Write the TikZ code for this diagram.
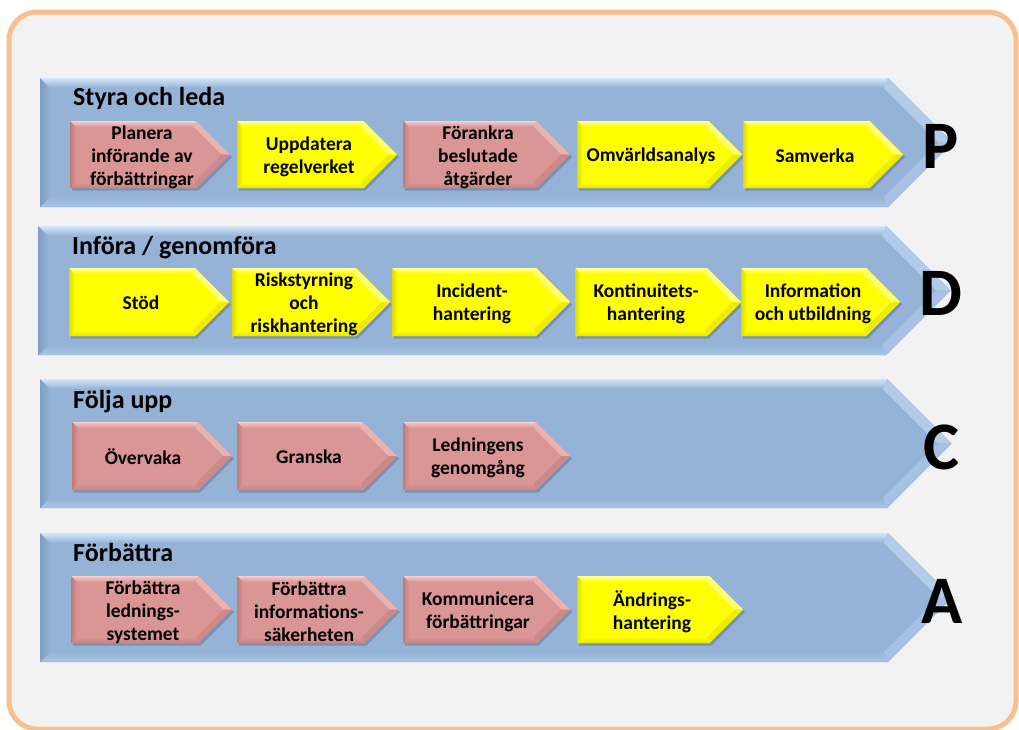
\documentclass[tikz,border=0pt]{standalone}
\usepackage{fontspec}
\setmainfont{Carlito}
\definecolor{bgc}{HTML}{F2F2F2}
\definecolor{framec}{HTML}{FABF8F}
% band colours
\definecolor{bandM}{HTML}{95B3D7}
\definecolor{bandT}{HTML}{D3E6FA}
\definecolor{bandL}{HTML}{7F9DC6}
\definecolor{bandU}{HTML}{B3CCEA}
\definecolor{bandW}{HTML}{A6C1E3}
\definecolor{bandB}{HTML}{A9C4E6}
% pink
\definecolor{pinkM}{HTML}{D99694}
\definecolor{pinkT}{HTML}{F4CDCC}
\definecolor{pinkL}{HTML}{C07B79}
\definecolor{pinkU}{HTML}{E8B3B2}
\definecolor{pinkW}{HTML}{CD8987}
\definecolor{pinkB}{HTML}{C88482}
% yellow
\definecolor{yelM}{HTML}{FFFF00}
\definecolor{yelT}{HTML}{FFFFA0}
\definecolor{yelL}{HTML}{DCDC00}
\definecolor{yelU}{HTML}{FFFF70}
\definecolor{yelW}{HTML}{EDED00}
\definecolor{yelB}{HTML}{E6E600}

% bevelled pentagon: x0, xflat, ytop, ybot, bevel, scheme
\newcommand\bvshape[6]{%
  \pgfmathsetmacro\bvYm{(#3+#4)/2}%
  \pgfmathsetmacro\bvXt{#2+(#4-#3)/2}%
  \pgfmathsetmacro\bvIa{#1+#5}%
  \pgfmathsetmacro\bvIt{#3+#5}%
  \pgfmathsetmacro\bvIb{#4-#5}%
  \pgfmathsetmacro\bvIf{#2-0.414*#5}%
  \pgfmathsetmacro\bvIx{\bvXt-1.414*#5}%
  \fill[#6M] (#1,#3) -- (#2,#3) -- (\bvXt,\bvYm) -- (#2,#4) -- (#1,#4) -- cycle;
  \shade[top color=#6T, bottom color=#6M] (#1,#3) -- (#2,#3) -- (\bvIf,\bvIt) -- (\bvIa,\bvIt) -- cycle;
  \fill[#6U] (#2,#3) -- (\bvXt,\bvYm) -- (\bvIx,\bvYm) -- (\bvIf,\bvIt) -- cycle;
  \fill[#6W] (\bvXt,\bvYm) -- (#2,#4) -- (\bvIf,\bvIb) -- (\bvIx,\bvYm) -- cycle;
  \shade[top color=#6M, bottom color=#6B] (#2,#4) -- (#1,#4) -- (\bvIa,\bvIb) -- (\bvIf,\bvIb) -- cycle;
  \shade[left color=#6L, right color=#6M] (#1,#4) -- (#1,#3) -- (\bvIa,\bvIt) -- (\bvIa,\bvIb) -- cycle;
}
% small arrow: x0, xtip, ytop, ybot, scheme
\newcommand\arr[5]{%
  \pgfmathsetmacro\arXf{#2-(#4-#3)/2}%
  \pgfmathsetmacro\arYm{(#3+#4)/2}%
  \begin{scope}[shift={(2,2.5)}]
    \fill[black,opacity=.18] (#1,#3) -- (\arXf,#3) -- (#2,\arYm) -- (\arXf,#4) -- (#1,#4) -- cycle;
  \end{scope}
  \bvshape{#1}{\arXf}{#3}{#4}{6}{#5}%
}

\tikzset{
  lab/.style={font=\bfseries\fontsize{19.5}{23}\selectfont, align=center, inner sep=0pt, text=black},
  ttl/.style={font=\bfseries\fontsize{26}{30}\selectfont, anchor=base west, inner sep=0pt, text=black},
  pdca/.style={font=\bfseries\fontsize{68}{70}\selectfont, anchor=base, inner sep=0pt, text=black},
}

\begin{document}
\begin{tikzpicture}[x=1pt,y=-1pt]
\useasboundingbox (0,0) rectangle (1019,729);
\fill[white] (0,0) rectangle (1019,729);
\draw[framec, line width=5pt, rounded corners=28pt, fill=bgc] (9,12) rectangle (1016,729);

% bands
\bvshape{40}{888}{78}{207}{10}{band}
\bvshape{38}{886}{226}{355}{10}{band}
\bvshape{40}{887}{379}{508}{10}{band}
\bvshape{40}{888}{533}{662}{10}{band}

% band titles
\node[ttl] (t1) at (73,105) {Styra och leda};
\node[ttl] (t2) at (72,254) {Införa / genomföra};
\node[ttl] (t3) at (73,408) {Följa upp};
\node[ttl] (t4) at (73,561) {Förbättra};

% row 1
\arr{70}{230}{121}{188}{pink}
\arr{237}{397}{121}{188}{yel}
\arr{403}{570}{121}{188}{pink}
\arr{577}{742}{121}{188}{yel}
\arr{743}{903}{121}{188}{yel}
\node[lab] (p1) at (142,157) {Planera\\införande av\\förbättringar};
\node[lab] (p2) at (309,157) {Uppdatera\\regelverket};
\node[lab] (p3) at (478,157) {Förankra\\beslutade\\åtgärder};
\node[lab] (p4) at (651,156) {Omvärldsanalys};
\node[lab] (p5) at (815,156) {Samverka};

% row 2
\arr{69}{229}{268}{336}{yel}
\arr{232}{390}{268}{336}{yel}
\arr{392}{570}{268}{336}{yel}
\arr{575}{741}{268}{336}{yel}
\arr{741}{900}{268}{336}{yel}
\node[lab] (d1) at (141,303) {Stöd};
\node[lab] (d2) at (304,304) {Riskstyrning\\och\\riskhantering};
\node[lab] (d3) at (472,304) {Incident-\\hantering};
\node[lab] (d4) at (646,304) {Kontinuitets-\\hantering};
\node[lab] (d5) at (813,304) {Information\\och utbildning};

% row 3
\arr{72}{232}{422}{490}{pink}
\arr{237}{397}{422}{490}{pink}
\arr{403}{570}{422}{490}{pink}
\node[lab] (c1) at (143,457) {Övervaka};
\node[lab] (c2) at (309,457) {Granska};
\node[lab] (c3) at (478,458) {Ledningens\\genomgång};

% row 4
\arr{71}{232}{576}{643}{pink}
\arr{237}{398}{576}{643}{pink}
\arr{403}{570}{576}{643}{pink}
\arr{577}{743}{576}{643}{yel}
\node[lab] (a1) at (143,612) {Förbättra\\lednings-\\systemet};
\node[lab] (a2) at (309,612) {Förbättra\\informations-\\säkerheten};
\node[lab] (a3) at (478,612) {Kommunicera\\förbättringar};
\node[lab] (a4) at (652,612) {Ändrings-\\hantering};

% PDCA letters
\node[pdca] (lP) at (941,168) {P};
\node[pdca] (lD) at (941,315) {D};
\node[pdca] (lC) at (941,469) {C};
\node[pdca] (lA) at (942,623) {A};
\end{tikzpicture}
\end{document}
